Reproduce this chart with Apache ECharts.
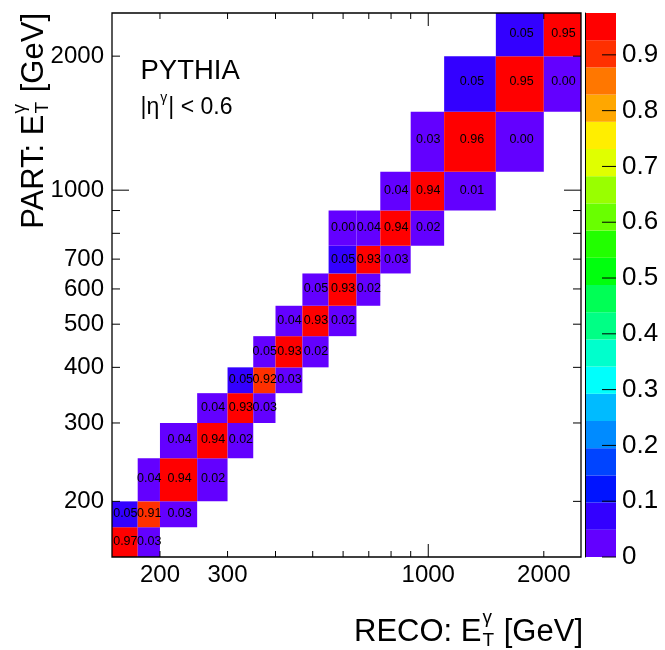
<!DOCTYPE html>
<html><head><meta charset="utf-8">
<script src="https://cdn.jsdelivr.net/npm/echarts@6/dist/echarts.min.js"></script>
<style>html,body{margin:0;padding:0;background:#fff}#c{width:665px;height:650px}</style>
</head><body><div id="c"></div>
<script>
// ---------- data ----------
const binEdges = [150,175,200,250,300,350,400,470,550,650,750,900,1100,1500,2000,2500];
const cellRecoBin = [0,1, 0,1,2, 1,2,3, 2,3,4, 3,4,5, 4,5,6, 5,6,7, 6,7,8, 7,8,9, 8,9,10, 8,9,10,11, 10,11,12, 11,12,13, 12,13,14, 13,14];
const cellPartBin = [0,0, 1,1,1, 2,2,2, 3,3,3, 4,4,4, 5,5,5, 6,6,6, 7,7,7, 8,8,8, 9,9,9, 10,10,10,10, 11,11,11, 12,12,12, 13,13,13, 14,14];
const cellValue = [0.97,0.03, 0.052,0.91,0.03, 0.04,0.94,0.02, 0.04,0.94,0.02, 0.04,0.93,0.03, 0.052,0.92,0.03, 0.047,0.93,0.02, 0.04,0.93,0.02, 0.047,0.93,0.02, 0.052,0.93,0.03, 0.002,0.04,0.94,0.02, 0.04,0.94,0.01, 0.03,0.96,0.002, 0.052,0.95,0.002, 0.052,0.95];
const xTickValues = [200,300,400,500,600,700,800,900,1000,2000];
const yTickValues = [200,300,400,500,600,700,800,900,1000,2000];
const longTickValues = [1000];
const xLabelValues = [200,300,1000,2000];
const yLabelValues = [200,300,400,500,600,700,1000,2000];
const zLabelValues = [0,0.1,0.2,0.3,0.4,0.5,0.6,0.7,0.8,0.9];
const axisMin = 150, axisMax = 2500;
const zMax = 0.975;
const nLevels = 20;
// ROOT "pretty palette" hues for the 20 contour levels (style)
const paletteHues = [263.2,252,235.2,224,207.2,196,179.2,168,151.2,140,123.2,112,95.2,84,67.2,56,39.2,28,11.2,0];

// ---------- helpers ----------
const FONT = '"Liberation Sans", Arial, Helvetica, sans-serif';
function levelColor(k){ return 'hsl(' + paletteHues[k] + ',100%,50%)'; }
function colorFor(v){ return levelColor(Math.max(0, Math.min(nLevels-1, Math.floor(v/(zMax/nLevels))))); }
const mctx = document.createElement('canvas').getContext('2d');
function measure(t, f){ mctx.font = f; return mctx.measureText(t).width; }

const cellData = cellValue.map((v,i)=>[binEdges[cellRecoBin[i]], binEdges[cellRecoBin[i]+1], binEdges[cellPartBin[i]], binEdges[cellPartBin[i]+1], v]);

// decor items: [x, y, kind]  kind 0=x tick,1=y tick,2=frame,3=x label,4=y label
const decorData = [];
xTickValues.forEach(v=>decorData.push([v, 1000, 0]));
yTickValues.forEach(v=>decorData.push([1000, v, 1]));
xLabelValues.forEach(v=>decorData.push([v, 1000, 3]));
yLabelValues.forEach(v=>decorData.push([1000, v, 4]));
decorData.push([1000,1000,2]);

function line(x1,y1,x2,y2,w){ return {type:'line', z2:20, shape:{x1,y1,x2,y2}, style:{stroke:'#000', lineWidth:w||1}}; }

function renderCell(params, api){
  const x0=api.value(0), x1=api.value(1), y0=api.value(2), y1=api.value(3), v=api.value(4);
  const p0=api.coord([x0,y0]), p1=api.coord([x1,y1]);
  const c=api.coord([(x0+x1)/2,(y0+y1)/2]);
  return {type:'group', children:[
    {type:'rect', z2:1, shape:{x:p0[0], y:p1[1], width:p1[0]-p0[0], height:p0[1]-p1[1]}, style:{fill:colorFor(v)}},
    {type:'text', z2:10, style:{x:c[0], y:c[1], text:v.toFixed(2), font:'12.5px '+FONT, fill:'#000', align:'center', verticalAlign:'middle'}}
  ]};
}

function renderDecor(params, api){
  const kind=api.value(2);
  if(kind===0){
    const v=api.value(0); const L = longTickValues.indexOf(v)>=0 ? 13 : 6;
    const b=api.coord([v,axisMin]), t=api.coord([v,axisMax]);
    return {type:'group', children:[line(b[0],b[1],b[0],b[1]-L), line(t[0],t[1],t[0],t[1]+L)]};
  }
  if(kind===1){
    const v=api.value(1); const L = longTickValues.indexOf(v)>=0 ? 17 : 8;
    const l=api.coord([axisMin,v]), r=api.coord([axisMax,v]);
    return {type:'group', children:[line(l[0],l[1],l[0]+L,l[1]), line(r[0],r[1],r[0]-L,r[1])]};
  }
  if(kind===2){
    const a=api.coord([axisMin,axisMax]), b=api.coord([axisMax,axisMin]);
    return {type:'rect', z2:20, shape:{x:a[0], y:a[1], width:b[0]-a[0], height:b[1]-a[1]}, style:{fill:null, stroke:'#000', lineWidth:1.3}};
  }
  if(kind===3){
    const v=api.value(0); const p=api.coord([v,axisMin]);
    return {type:'text', style:{x:p[0], y:p[1]+18, text:String(v), font:'24px '+FONT, fill:'#000', align:'center', verticalAlign:'middle'}};
  }
  const v=api.value(1); const p=api.coord([axisMin,v]);
  return {type:'text', style:{x:p[0]-8, y:p[1], text:String(v), font:'24px '+FONT, fill:'#000', align:'right', verticalAlign:'middle'}};
}

const blockData = paletteHues.map((h,k)=>[0.5, k]);
function renderBlock(params, api){
  const k=api.value(1); const step=zMax/nLevels;
  const p0=api.coord([0,k*step]), p1=api.coord([1,(k+1)*step]);
  return {type:'rect', shape:{x:p0[0], y:p1[1], width:p1[0]-p0[0], height:p0[1]-p1[1]}, style:{fill:levelColor(k)}};
}
const zTickData = zLabelValues.map(v=>[1, v]);
function renderZTick(params, api){
  const v=api.value(1); const p=api.coord([1,v]);
  return {type:'group', children:[
    line(p[0]-14,p[1],p[0],p[1]),
    {type:'text', style:{x:p[0]+6, y:p[1], text:String(v), font:'26px '+FONT, fill:'#000', align:'left', verticalAlign:'middle'}}
  ]};
}

// ---------- titles ----------
function buildTitle(main, sub, sup, tail, F){
  const fm = F+'px '+FONT, fs = Math.round(F*0.62)+'px '+FONT;
  const w1 = measure(main, fm);
  const ws = Math.max(measure(sub, fs), measure(sup, fs));
  const wt = measure(tail, fm);
  const st = (t,f)=>({text:t, font:f, fill:'#000', align:'left', verticalAlign:'middle'});
  return {width: w1+ws+2+wt, children:[
    {type:'text', x:0, y:0, style:st(main,fm)},
    {type:'text', x:w1+1, y:F*0.28, style:st(sub,fs)},
    {type:'text', x:w1+1, y:-F*0.45, style:st(sup,fs)},
    {type:'text', x:w1+ws+2, y:0, style:st(tail,fm)}
  ]};
}
const xTitle = buildTitle('RECO: E', 'T', 'γ', ' [GeV]', 31);
const yTitle = buildTitle('PART: E', 'T', 'γ', ' [GeV]', 31);
const etaF = 23, etaFm = etaF+'px '+FONT, etaFs = Math.round(etaF*0.62)+'px '+FONT;
const etaW1 = measure('|η', etaFm), etaWs = measure('γ', etaFs);

const chart = echarts.init(document.getElementById('c'));
chart.setOption({
  animation:false,
  backgroundColor:'#fff',
  grid:[{left:112, top:13, width:469, height:544}, {left:585, top:13, width:31, height:544}],
  xAxis:[
    {type:'log', logBase:10, min:axisMin, max:axisMax, gridIndex:0, show:false},
    {type:'value', min:0, max:1, gridIndex:1, show:false}
  ],
  yAxis:[
    {type:'log', logBase:10, min:axisMin, max:axisMax, gridIndex:0, show:false},
    {type:'value', min:0, max:zMax, gridIndex:1, position:'right', z:10,
     axisLine:{show:true, lineStyle:{color:'#000', width:1}}, axisTick:{show:false}, axisLabel:{show:false}, splitLine:{show:false}}
  ],
  series:[
    {type:'custom', xAxisIndex:0, yAxisIndex:0, data:cellData, encode:{x:[0,1], y:[2,3]}, renderItem:renderCell, z:2},
    {type:'custom', xAxisIndex:0, yAxisIndex:0, data:decorData, encode:{x:0, y:1}, renderItem:renderDecor, z:5},
    {type:'custom', xAxisIndex:1, yAxisIndex:1, data:blockData, encode:{x:0, y:1}, renderItem:renderBlock, z:2},
    {type:'custom', xAxisIndex:1, yAxisIndex:1, data:zTickData, encode:{x:0, y:1}, renderItem:renderZTick, z:5}
  ],
  graphic:[
    {type:'text', left:140.5, top:57, style:{text:'PYTHIA', font:'27.5px '+FONT, fill:'#000'}},
    {type:'group', x:140.5, y:107.5, children:[
      {type:'text', x:0, y:0, style:{text:'|η', font:etaFm, fill:'#000', verticalAlign:'middle'}},
      {type:'text', x:etaW1+1, y:-9, style:{text:'γ', font:etaFs, fill:'#000', verticalAlign:'middle'}},
      {type:'text', x:etaW1+etaWs+2, y:0, style:{text:'| < 0.6', font:etaFm, fill:'#000', verticalAlign:'middle'}}
    ]},
    {type:'group', x:583 - xTitle.width, y:632, children:xTitle.children},
    {type:'group', x:34, y:13 + yTitle.width, rotation:Math.PI/2, children:yTitle.children}
  ]
});
</script></body></html>
